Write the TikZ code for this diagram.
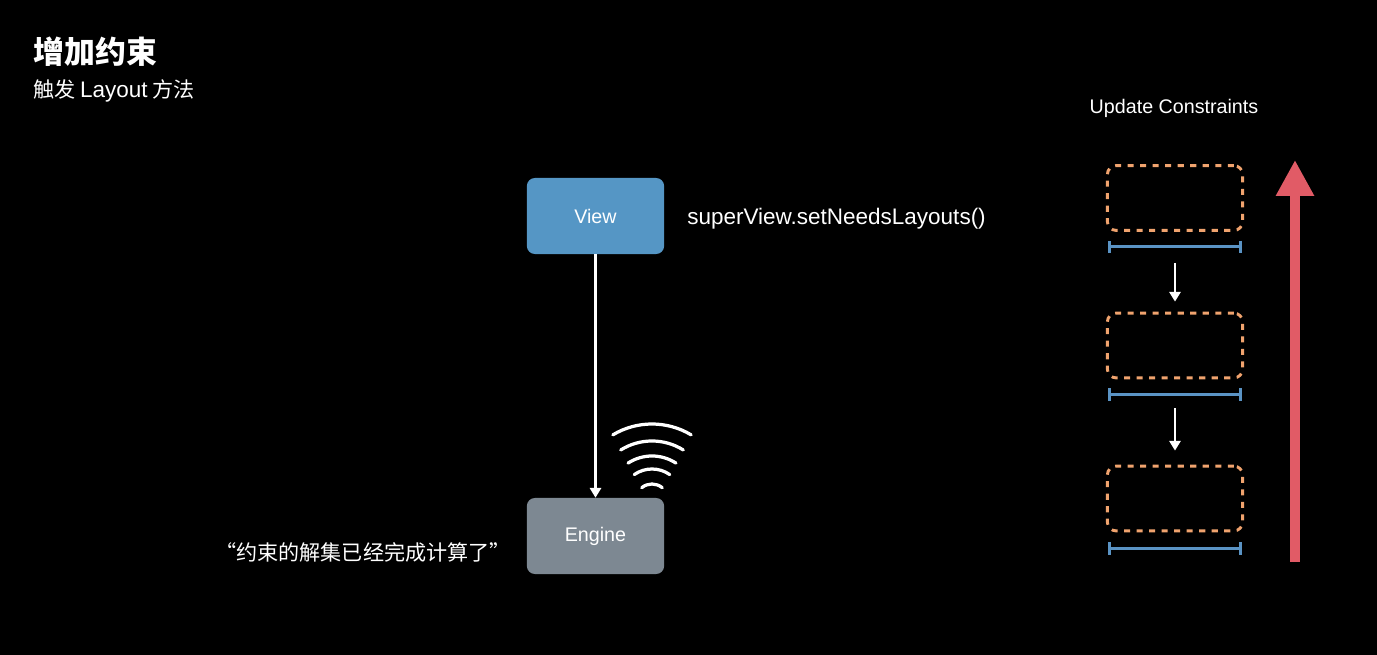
\documentclass[tikz,border=0pt]{standalone}
\usepackage{fontspec}
\setmainfont{Noto Sans CJK SC}
\newfontfamily\latinfont{Liberation Sans}
\usetikzlibrary{
  arrows.meta,
  calc,
}
\definecolor{viewBlue}{HTML}{5596C5}
\definecolor{engineGray}{HTML}{7D8892}
\definecolor{dashOrange}{HTML}{F0A36E}
\definecolor{barBlue}{HTML}{5A93C4}
\definecolor{upRed}{HTML}{E15B66}
\tikzset{
  block/.style={
    rectangle, rounded corners=0.2cm, minimum width=3.43cm, minimum height=1.9cm,
    text=white, font=\latinfont\fontsize{14}{16}\selectfont, inner sep=0pt,
  },
  ghostbox/.style={
    rectangle, rounded corners=0.22cm, draw=dashOrange, dash pattern=on 4.3pt off 4.6pt,
    line width=2.1pt, minimum width=3.38cm, minimum height=1.62cm,
  },
  span/.style={barBlue, line width=2.2pt, {Bar[width=9pt]}-{Bar[width=9pt]}},
  flow/.style={white, line width=1.7pt, -{Triangle[width=8pt,length=7pt]}},
  rise/.style={upRed, line width=7.1pt, -{Triangle[width=25.6pt,length=25.6pt]}},
  caption/.style={text=white, font=\fontsize{15}{18}\selectfont, anchor=west, inner sep=0pt},
  wave/.style={white, line width=2.3pt, line cap=round},
}

\begin{document}
\begin{tikzpicture}[x=0.025cm, y=-0.025cm]

  \fill[black] (0,0) rectangle (1377,655);
  \useasboundingbox (0,0) rectangle (1377,655);

  % Title
  \node[caption, font=\fontsize{22}{26}\selectfont\bfseries] (title) at (33,52) {增加约束};
  \node[caption] (subtitle) at (33,91) {触发 {\latinfont\fontsize{16}{18}\selectfont Layout} 方法};

  % View -> Engine
  \node[block, fill=viewBlue] (view) at (595.5,216) {View};
  \node[block, fill=engineGray] (engine) at (595.5,536) {Engine};
  \draw[flow] (view.south) -- (engine.north);
  \node[caption, font=\latinfont\fontsize{16}{18}\selectfont] (call) at (687,219) {superView.setNeedsLayouts()};
  \node[caption, anchor=east] (done) at (511,552) {“约束的解集已经完成计算了”};

  % Signal
  \coordinate (wifi) at (652,500);
  \foreach \r/\a in {16/40, 31/35, 44/33, 59/32, 76/31}
    \draw[wave] ([shift={(270-\a:\r)}]wifi) arc[start angle=270-\a, end angle=270+\a, radius=\r];

  % Update Constraints
  \node[caption, anchor=center, font=\latinfont\fontsize{14}{16}\selectfont] (update) at (1174,108) {Update Constraints};
  \node[ghostbox] (c1) at (1175,198) {};
  \node[ghostbox] (c2) at (1175,345.5) {};
  \node[ghostbox] (c3) at (1175,498.5) {};
  \draw[span] ([shift={(2,15)}]c1.south west) -- ([shift={(-2,15)}]c1.south east);
  \draw[span] ([shift={(2,15)}]c2.south west) -- ([shift={(-2,15)}]c2.south east);
  \draw[span] ([shift={(2,16)}]c3.south west) -- ([shift={(-2,16)}]c3.south east);
  \draw[flow] ([shift={(0,31)}]c1.south) -- ([shift={(0,-10)}]c2.north);
  \draw[flow] ([shift={(0,29)}]c2.south) -- ([shift={(0,-14)}]c3.north);

  \coordinate (riseFrom) at (1295,562);
  \coordinate (riseTo) at (1295,160);
  \draw[rise] (riseFrom) -- (riseTo);

\end{tikzpicture}
\end{document}
